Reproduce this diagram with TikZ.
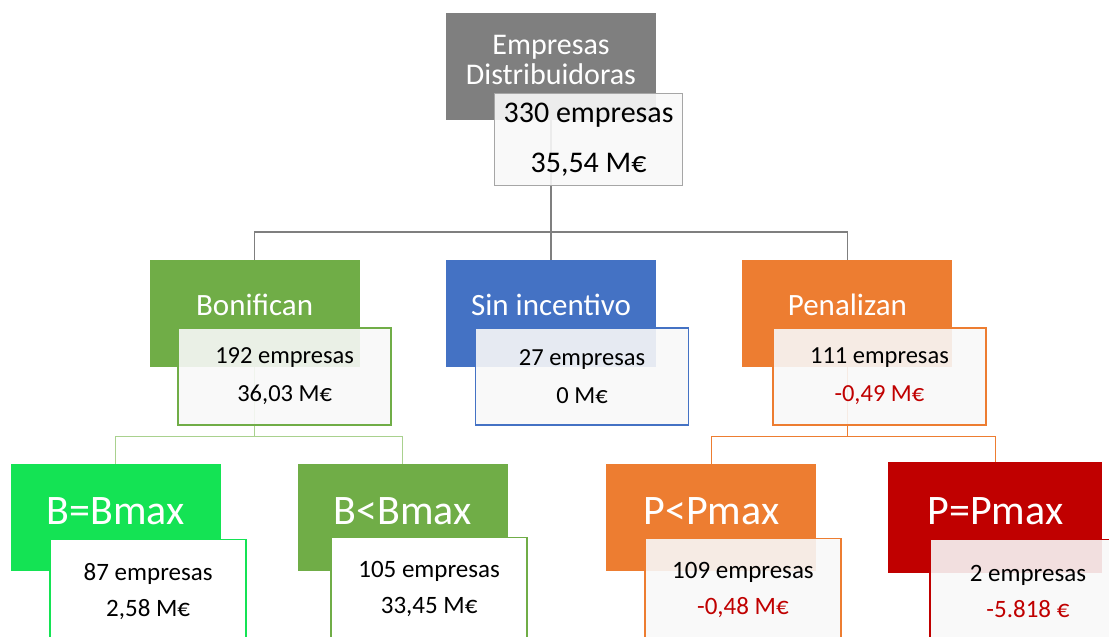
\documentclass[tikz,border=0pt]{standalone}
\usepackage{fontspec}
\setmainfont{Carlito}
\usetikzlibrary{positioning, calc}

\definecolor{topgrey}{HTML}{7F7F7F}
\definecolor{edgegrey}{HTML}{A6A6A6}
\definecolor{bongreen}{HTML}{70AD47}
\definecolor{bonlight}{HTML}{A9D18E}
\definecolor{sinblue}{HTML}{4472C4}
\definecolor{penorange}{HTML}{ED7D31}
\definecolor{maxgreen}{HTML}{14E354}
\definecolor{maxred}{HTML}{C00000}
\definecolor{panel}{HTML}{F8F8F8}

\pgfdeclarelayer{back}
\pgfsetlayers{back,main}

\begin{document}
\begin{tikzpicture}[
    x=1pt, y=-1pt,
    catbox/.style={rectangle, minimum width=210pt, minimum height=107pt, text=white, inner sep=0pt},
    midtitle/.style={catbox, font=\fontsize{31}{31}\selectfont, text height=22pt, text depth=19pt},
    lowtitle/.style={catbox, font=\fontsize{42}{42}\selectfont, text height=30pt, text depth=16pt},
    valbox/.style={rectangle, anchor=north west, fill=panel, fill opacity=0.9, text opacity=1, line width=1.5pt, align=center, inner sep=0pt},
    midval/.style={valbox, minimum width=213pt, minimum height=97pt, font=\fontsize{24.5}{38}\selectfont},
    lowval/.style={valbox, minimum width=196pt, minimum height=104pt, font=\fontsize{25}{36}\selectfont},
    trunk/.style={draw=topgrey, line width=1.5pt},
    bonline/.style={draw=bonlight, line width=1pt},
    penline/.style={draw=penorange, line width=1.5pt},
  ]
    \useasboundingbox (0,0) rectangle (1109,637);

    % root
    \node[catbox, fill=topgrey, font=\fontsize{30}{30}\selectfont, align=center] (top) at (551,66.5) {Empresas\\Distribuidoras\rule[-13pt]{0pt}{13pt}};
    \node[valbox, draw=edgegrey, minimum width=188pt, minimum height=92pt, font=\fontsize{30}{50}\selectfont] (topv) at ($(top.north west)+(48,80)$) {330 empresas\\35,54 M€};

    % first level
    \node[midtitle, fill=sinblue, below=140pt of top] (sin) {Sin incentivo};
    \node[midtitle, fill=bongreen, left=86pt of sin] (bon) {Bonifican};
    \node[midtitle, fill=penorange, right=86pt of sin] (pen) {Penalizan};
    \node[midval, draw=bongreen] (bonv) at ($(bon.north west)+(28,67)$) {192 empresas\\36,03 M€};
    \node[midval, draw=sinblue] (sinv) at ($(sin.north west)+(29,67)$) {27 empresas\\0 M€};
    \node[midval, draw=penorange] (penv) at ($(pen.north west)+(30,67)$) {111 empresas\\\textcolor{maxred}{-0,49 M€}};

    % second level
    \node[lowtitle, fill=maxgreen, below=96pt of bon, xshift=-139pt] (bmax) {B=Bmax};
    \node[lowtitle, fill=bongreen, below=96pt of bon, xshift=148pt] (bless) {B<Bmax};
    \node[lowtitle, fill=penorange, below=96pt of pen, xshift=-136pt] (plt) {P<Pmax};
    \node[lowtitle, fill=maxred, minimum width=214pt, minimum height=111pt, below=94pt of pen, xshift=148pt] (peq) {P=Pmax};
    \node[lowval, draw=maxgreen, fill=white, fill opacity=1] (bmaxv) at ($(bmax.north west)+(39,75)$) {87 empresas\\2,58 M€};
    \node[lowval, draw=bongreen, fill=white, fill opacity=1] (blessv) at ($(bless.north west)+(33,73)$) {105 empresas\\33,45 M€};
    \node[lowval, draw=penorange] (pltv) at ($(plt.north west)+(38,74)$) {109 empresas\\\textcolor{maxred}{-0,48 M€}};
    \node[lowval, draw=maxred] (peqv) at ($(peq.north west)+(41,77)$) {2 empresas\\\textcolor{maxred}{-5.818 €}};

    % connectors behind the boxes
    \begin{pgfonlayer}{back}
      \coordinate (bar1) at ($(top.south)+(0,112)$);
      \draw[trunk] (top.center) -- (bar1) -- (sin.center);
      \draw[trunk] (bon.center) |- (bar1) -| (pen.center);
      \coordinate (bar2) at ($(bon.south)+(0,69)$);
      \draw[bonline] (bon.center) -- (bar2);
      \draw[bonline] (bmax.center) |- (bar2) -| (bless.center);
      \coordinate (bar3) at ($(pen.south)+(0,69)$);
      \draw[penline] (pen.center) -- (bar3);
      \draw[penline] (plt.center) |- (bar3) -| (peq.center);
    \end{pgfonlayer}
  \end{tikzpicture}
\end{document}
